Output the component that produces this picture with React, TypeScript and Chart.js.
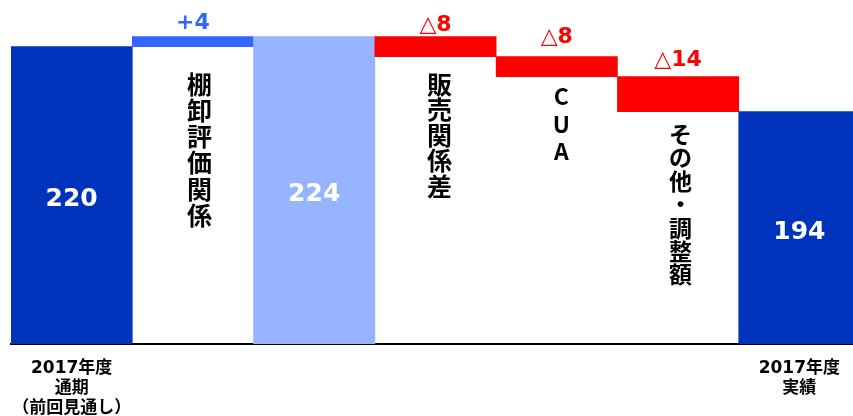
import { useEffect, useRef } from 'react';
import { Chart, registerables } from 'chart.js';

Chart.register(...registerables);

// Waterfall steps: previous full-year forecast → adjustments → full-year result
const categories = ['2017年度\n通期\n（前回見通し）', '棚卸評価関係', '', '販売関係差', 'CUA', 'その他・調整額', '2017年度\n実績'];
const stepKinds = ['total', 'delta', 'total', 'delta', 'delta', 'delta', 'total'];
const stepValues = [220, 4, 224, -8, -8, -14, 194];
const axisLabelSteps = [0, 6];

// Value axis window (hidden)
const Y_MIN = 101.2;
const Y_MAX = 237;

// Styling
const BAR_COLORS = ['#0033bb', '#3366ff', '#96b4ff', '#ff0000', '#ff0000', '#ff0000', '#0033bb'];
const DELTA_LABEL_COLORS: Record<number, string> = { 1: '#3366ff', 3: '#ff0000', 4: '#ff0000', 5: '#ff0000' };
const DELTA_LABEL_GAP: Record<number, number> = { 1: 8, 3: 6, 4: 14, 5: 11 };
const INNER_TEXT: Record<number, { dx: number; first: number; pitch: number; size: number }> = {
  1: { dx: 6.5, first: 37.5, pitch: 26.3, size: 25 },
  3: { dx: 4, first: 27.5, pitch: 25.6, size: 25 },
  4: { dx: 4.5, first: 20, pitch: 27.5, size: 23 },
  5: { dx: 2.5, first: 22.7, pitch: 23.4, size: 23 },
};
const CJK = "'Noto Sans CJK JP', sans-serif";

function buildRanges(): [number, number][] {
  let running = 0;
  return stepValues.map((v, i) => {
    if (stepKinds[i] === 'total') {
      running = v;
      return [Y_MIN, v];
    }
    const from = running;
    running += v;
    return [from, running];
  });
}

function deltaText(v: number): string {
  return v > 0 ? `+${v}` : `△${Math.abs(v)}`;
}

const waterfallLabels = {
  id: 'waterfallLabels',
  afterDatasetsDraw(chart: any) {
    const { ctx } = chart;
    const meta = chart.getDatasetMeta(0);
    ctx.save();
    meta.data.forEach((bar: any, i: number) => {
      const top = Math.min(bar.y, bar.base);
      const bottom = Math.max(bar.y, bar.base);
      const v = stepValues[i];
      if (stepKinds[i] === 'total') {
        ctx.fillStyle = '#ffffff';
        ctx.font = "bold 25px 'DejaVu Sans', sans-serif";
        ctx.textAlign = 'center';
        ctx.textBaseline = 'alphabetic';
        ctx.fillText(String(v), bar.x, (top + bottom) / 2 + 11);
        return;
      }
      // value above the step
      ctx.fillStyle = DELTA_LABEL_COLORS[i];
      ctx.font = "bold 22px 'DejaVu Sans', sans-serif";
      ctx.textAlign = 'center';
      ctx.textBaseline = 'alphabetic';
      ctx.fillText(deltaText(v), bar.x, top - DELTA_LABEL_GAP[i]);
      // vertical caption under the step
      const t = INNER_TEXT[i];
      if (!t) return;
      ctx.fillStyle = '#000000';
      ctx.font = `bold ${t.size}px ${CJK}`;
      ctx.textBaseline = 'middle';
      Array.from(categories[i]).forEach((ch, k) => {
        ctx.fillText(ch, bar.x + t.dx, bottom + t.first + k * t.pitch);
      });
    });
    ctx.restore();
  },
};

export default function App() {
  const canvasRef = useRef<HTMLCanvasElement>(null);

  useEffect(() => {
    const canvas = canvasRef.current;
    if (!canvas) return;
    const chart = new Chart(canvas, {
      type: 'bar',
      data: {
        labels: categories,
        datasets: [
          {
            data: buildRanges() as any,
            backgroundColor: BAR_COLORS,
            borderWidth: 0,
            barPercentage: 1,
            categoryPercentage: 1,
          },
        ],
      },
      options: {
        responsive: false,
        animation: false,
        devicePixelRatio: 1,
        layout: { padding: { left: 11, right: 10, top: 4, bottom: 0 } },
        plugins: { legend: { display: false }, tooltip: { enabled: false } },
        scales: {
          x: {
            grid: { display: false },
            border: { display: true, color: '#000000', width: 2 },
            afterFit: (axis: any) => {
              axis.height = 72;
            },
            ticks: {
              autoSkip: false,
              maxRotation: 0,
              padding: 6,
              color: '#000000',
              font: { family: `'DejaVu Sans', ${CJK}`, size: 17, weight: 'bold', lineHeight: 1.2 },
              callback: (_v: any, i: number) =>
                axisLabelSteps.includes(i) ? categories[i].split('\n') : '',
            },
          },
          y: { display: false, min: Y_MIN, max: Y_MAX },
        },
      },
      plugins: [waterfallLabels],
    });
    return () => chart.destroy();
  }, []);

  return (
    <div
      style={{
        position: 'fixed',
        left: 0,
        top: 0,
        width: 853,
        height: 416,
        overflow: 'hidden',
        background: '#ffffff',
      }}
    >
      <canvas ref={canvasRef} width={870} height={416} style={{ display: 'block' }} />
    </div>
  );
}
